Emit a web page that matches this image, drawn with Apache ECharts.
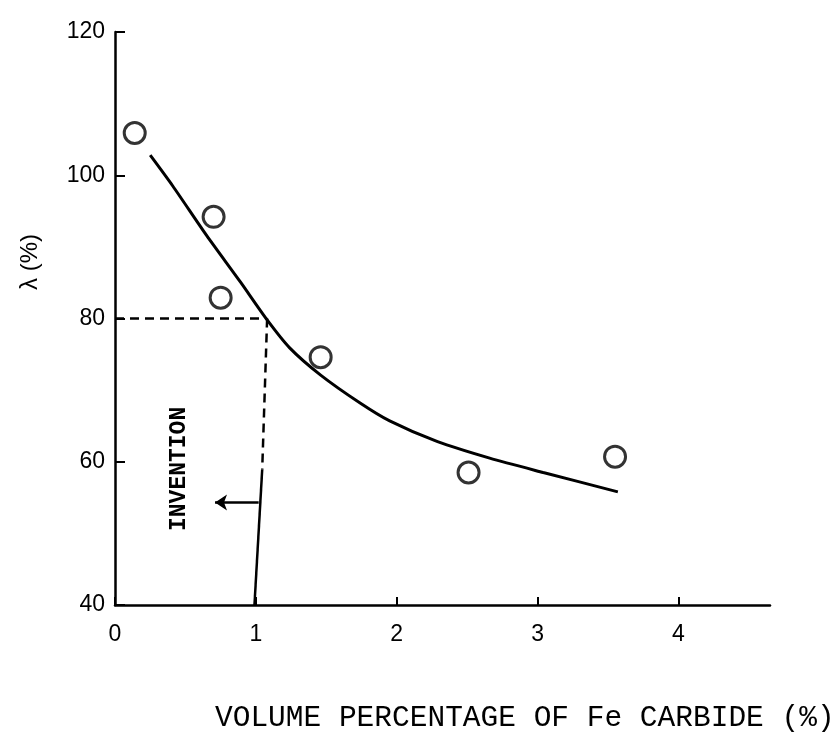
<!DOCTYPE html>
<html>
<head>
<meta charset="utf-8">
<script src="https://cdn.jsdelivr.net/npm/echarts@6/dist/echarts.min.js"></script>
<style>
  html, body { margin: 0; padding: 0; background: #fff; }
  #chart { width: 839px; height: 756px; }
</style>
</head>
<body>
<div id="chart"></div>
<script>
// measured points (volume % of Fe carbide, lambda %)
const pointX = [0.14, 0.70, 0.75, 1.46, 2.51, 3.55]
const pointY = [105.9, 94.2, 82.9, 74.6, 58.5, 60.7]

// fitted curve as drawn
const curveX = [0.25, 0.41, 0.65, 0.89, 1.08, 1.24, 1.46, 1.74, 1.95, 2.29, 2.66, 3.04, 3.57]
const curveY = [102.8, 98.5, 91.6, 85.1, 79.8, 75.9, 72.1, 68.2, 65.7, 62.8, 60.5, 58.5, 55.8]

// invention limit guide lines
const guideH = [[0, 80], [1.08, 80]]
const guideV = [[1.08, 80], [1.045, 58.9]]
const limitLine = [[1.045, 58.9], [0.99, 40]]
const arrow = [[1.02, 54.3], [0.71, 54.3]]

const yTicks = [40, 60, 80, 100, 120]
const xTicks = [0, 1, 2, 3, 4]

const chart = echarts.init(document.getElementById('chart'))

const ink = '#000'

const option = {
  backgroundColor: '#fff',
  animation: false,
  grid: { left: 115, right: 69, top: 32, bottom: 151 },
  xAxis: {
    type: 'value',
    min: 0,
    max: 4.65,
    interval: 1,
    axisLine: { lineStyle: { color: ink, width: 2.5 } },
    axisTick: { inside: true, length: 8, lineStyle: { color: ink, width: 2 } },
    axisLabel: {
      showMaxLabel: false,
      margin: 18,
      color: ink,
      fontSize: 23,
      fontFamily: 'Liberation Sans',
      formatter: v => xTicks.includes(v) ? String(v) : ''
    },
    splitLine: { show: false }
  },
  yAxis: {
    type: 'value',
    min: yTicks[0],
    max: yTicks[yTicks.length - 1],
    interval: 20,
    axisLine: { show: true, lineStyle: { color: ink, width: 2.5 } },
    axisTick: { show: true, inside: true, length: 10, lineStyle: { color: ink, width: 2 } },
    axisLabel: {
      margin: 10,
      color: ink,
      fontSize: 23,
      fontFamily: 'Liberation Sans'
    },
    splitLine: { show: false }
  },
  graphic: [
    {
      type: 'text',
      x: 18,
      y: 290,
      rotation: Math.PI / 2,
      style: { text: 'λ (%)', fill: ink, font: '24px "Liberation Sans"' }
    },
    {
      type: 'text',
      x: 168,
      y: 531,
      rotation: Math.PI / 2,
      style: { text: 'INVENTION', fill: ink, font: 'bold 23px "Liberation Mono"' }
    },
    {
      type: 'text',
      left: 215,
      top: 703,
      style: { text: 'VOLUME PERCENTAGE OF Fe CARBIDE (%)', fill: ink, font: '29.5px "Liberation Mono"' }
    }
  ],
  series: [
    {
      type: 'line',
      data: curveX.map((x, i) => [x, curveY[i]]),
      smooth: 0.25,
      symbol: 'none',
      lineStyle: { color: ink, width: 3 },
      z: 3
    },
    {
      type: 'line',
      data: guideH,
      symbol: 'none',
      lineStyle: { color: ink, width: 2.5, type: [9, 6] }
    },
    {
      type: 'line',
      data: guideV,
      symbol: 'none',
      lineStyle: { color: ink, width: 2.5, type: [9, 6] }
    },
    {
      type: 'line',
      data: limitLine,
      symbol: 'none',
      lineStyle: { color: ink, width: 2.5 }
    },
    {
      type: 'lines',
      coordinateSystem: 'cartesian2d',
      symbol: ['none', 'arrow'],
      symbolSize: 12,
      lineStyle: { color: ink, width: 2.5, opacity: 1 },
      data: [{ coords: arrow }]
    },
    {
      type: 'scatter',
      data: pointX.map((x, i) => [x, pointY[i]]),
      symbol: 'circle',
      symbolSize: 21,
      itemStyle: { color: '#fff', borderColor: ink, borderWidth: 3 },
      z: 5
    }
  ]
}

chart.setOption(option)
</script>
</body>
</html>
